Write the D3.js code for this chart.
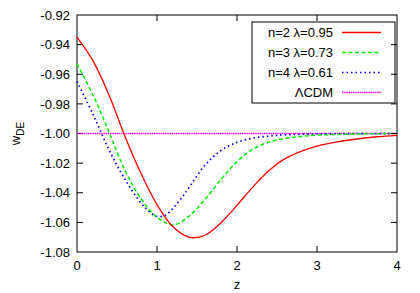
<!DOCTYPE html>
<html>
<head>
<meta charset="utf-8">
<script src="https://cdn.jsdelivr.net/npm/d3@7"></script>
<style>
  body { margin: 0; background: #fff; }
  text { font-family: "Liberation Sans", Arial, sans-serif; font-size: 13px; fill: #000; }
</style>
</head>
<body>
<div id="chart"></div>
<script>
// valores
var zRed   = [0, 0.2, 0.4, 0.6, 0.8, 1.0, 1.2, 1.4, 1.6, 1.8, 2.0, 2.2, 2.4, 2.6, 2.8, 3.0, 3.25, 3.5, 3.75, 4.0];
var wRed   = [-0.935, -0.951, -0.974, -1.002, -1.027, -1.048, -1.063, -1.070, -1.0687, -1.0602, -1.0485, -1.036, -1.025, -1.017, -1.012, -1.0085, -1.0057, -1.0037, -1.0022, -1.0012];
var zGreen = [0, 0.2, 0.4, 0.6, 0.8, 1.0, 1.2, 1.4, 1.6, 1.8, 2.0, 2.2, 2.4, 2.6, 2.8, 3.0, 3.5, 4.0];
var wGreen = [-0.953, -0.974, -0.999, -1.025, -1.044, -1.0565, -1.0617, -1.0558, -1.0445, -1.031, -1.019, -1.0105, -1.0058, -1.0034, -1.002, -1.0011, -1.0003, -1.0];
var zBlue  = [0, 0.2, 0.4, 0.6, 0.8, 0.9, 1.0, 1.1, 1.2, 1.3, 1.4, 1.6, 1.8, 2.0, 2.2, 2.4, 2.6, 3.0, 3.5, 4.0];
var wBlue  = [-0.965, -0.987, -1.011, -1.031, -1.047, -1.0525, -1.056, -1.0553, -1.0505, -1.044, -1.0365, -1.0214, -1.0115, -1.006, -1.0031, -1.0017, -1.0009, -1.0003, -1.0001, -1.0];
var zLcdm  = [0, 4];
var wLcdm  = [-1, -1];

var xTicks = [0, 1, 2, 3, 4];
var yTicks = [-0.92, -0.94, -0.96, -0.98, -1.00, -1.02, -1.04, -1.06, -1.08];
var leyenda = ["n=2 \u03bb=0.95", "n=3 \u03bb=0.73", "n=4 \u03bb=0.61", "\u039bCDM"];

var W = 420, H = 293;
var margin = {top: 15, right: 23, bottom: 41, left: 77},
  ancho = W - margin.left - margin.right,
  altura = H - margin.top - margin.bottom;

var svg = d3.select("#chart").append("svg")
  .attr("width", W).attr("height", H)
  .append("g")
  .attr("transform", "translate(" + margin.left + "," + margin.top + ")");

var x = d3.scaleLinear().domain([0, 4]).range([0, ancho]);
var y = d3.scaleLinear().domain([-1.08, -0.92]).range([altura, 0]);

// marco
svg.append("rect")
  .attr("width", ancho).attr("height", altura)
  .attr("fill", "none").attr("stroke", "#000").attr("stroke-width", 1);

// ticks hacia adentro
var tk = 6;
svg.selectAll(".yt").data(yTicks.slice(1, -1)).enter().append("line")
  .attr("x1", 0).attr("x2", tk)
  .attr("y1", function(d) { return y(d); }).attr("y2", function(d) { return y(d); })
  .attr("stroke", "#000");
svg.selectAll(".xt").data(xTicks.slice(1, -1)).enter().append("line")
  .attr("y1", altura).attr("y2", altura - tk)
  .attr("x1", function(d) { return x(d); }).attr("x2", function(d) { return x(d); })
  .attr("stroke", "#000");
svg.selectAll(".xt2").data(xTicks.slice(1, -1)).enter().append("line")
  .attr("y1", 0).attr("y2", tk)
  .attr("x1", function(d) { return x(d); }).attr("x2", function(d) { return x(d); })
  .attr("stroke", "#000");

// etiquetas de ejes
svg.selectAll(".yl").data(yTicks).enter().append("text")
  .attr("x", -7).attr("y", function(d) { return y(d); })
  .attr("dy", "0.36em").attr("text-anchor", "end")
  .text(function(d) { return d.toFixed(2); });
svg.selectAll(".xl").data(xTicks).enter().append("text")
  .attr("x", function(d) { return x(d); }).attr("y", altura + 18)
  .attr("text-anchor", "middle")
  .text(function(d) { return d; });

svg.append("text").attr("x", ancho / 2).attr("y", altura + 37)
  .attr("text-anchor", "middle").text("z");
var yl = svg.append("text")
  .attr("transform", "translate(" + (-57) + "," + (y(-1.0)) + ") rotate(-90)")
  .attr("text-anchor", "middle");
yl.append("tspan").text("w");
yl.append("tspan").attr("dy", 4).style("font-size", "10px").text("DE");

// curvas
var series = [
  {z: zRed, w: wRed, color: "#ff0000", dash: null, sw: 1.3},
  {z: zGreen, w: wGreen, color: "#00ee00", dash: "4,2.5", sw: 1.5},
  {z: zBlue, w: wBlue, color: "#0000ff", dash: "1.5,3", sw: 1.7},
  {z: zLcdm, w: wLcdm, color: "#ff00ff", dash: "1.5,0.7", sw: 1.3}
];

var linea = d3.line()
  .x(function(d) { return x(d[0]); })
  .y(function(d) { return y(d[1]); })
  .curve(d3.curveCatmullRom.alpha(0.5));

series.slice().reverse().forEach(function(s) {
  svg.append("path")
    .datum(d3.zip(s.z, s.w))
    .attr("d", linea)
    .attr("fill", "none")
    .attr("stroke", s.color)
    .attr("stroke-width", s.sw)
    .attr("stroke-dasharray", s.dash);
});

// leyenda
var lg = svg.append("g").attr("transform", "translate(" + (252 - margin.left) + "," + (22 - margin.top) + ")");
lg.append("rect").attr("width", 143).attr("height", 81)
  .attr("fill", "#fff").attr("stroke", "#000").attr("stroke-width", 1);
series.forEach(function(s, i) {
  var yy = 10.5 + i * 20;
  lg.append("text").attr("x", 81).attr("y", yy).attr("dy", "0.36em")
    .attr("text-anchor", "end").text(leyenda[i]);
  lg.append("line").attr("x1", 90).attr("x2", 129)
    .attr("y1", yy).attr("y2", yy)
    .attr("stroke", s.color).attr("stroke-width", s.sw)
    .attr("stroke-dasharray", s.dash);
});

// ticks lado derecho
svg.selectAll(".yt2").data(yTicks.slice(1, -1)).enter().append("line")
  .attr("x1", ancho).attr("x2", ancho - tk)
  .attr("y1", function(d) { return y(d); }).attr("y2", function(d) { return y(d); })
  .attr("stroke", "#000");
</script>
</body>
</html>
